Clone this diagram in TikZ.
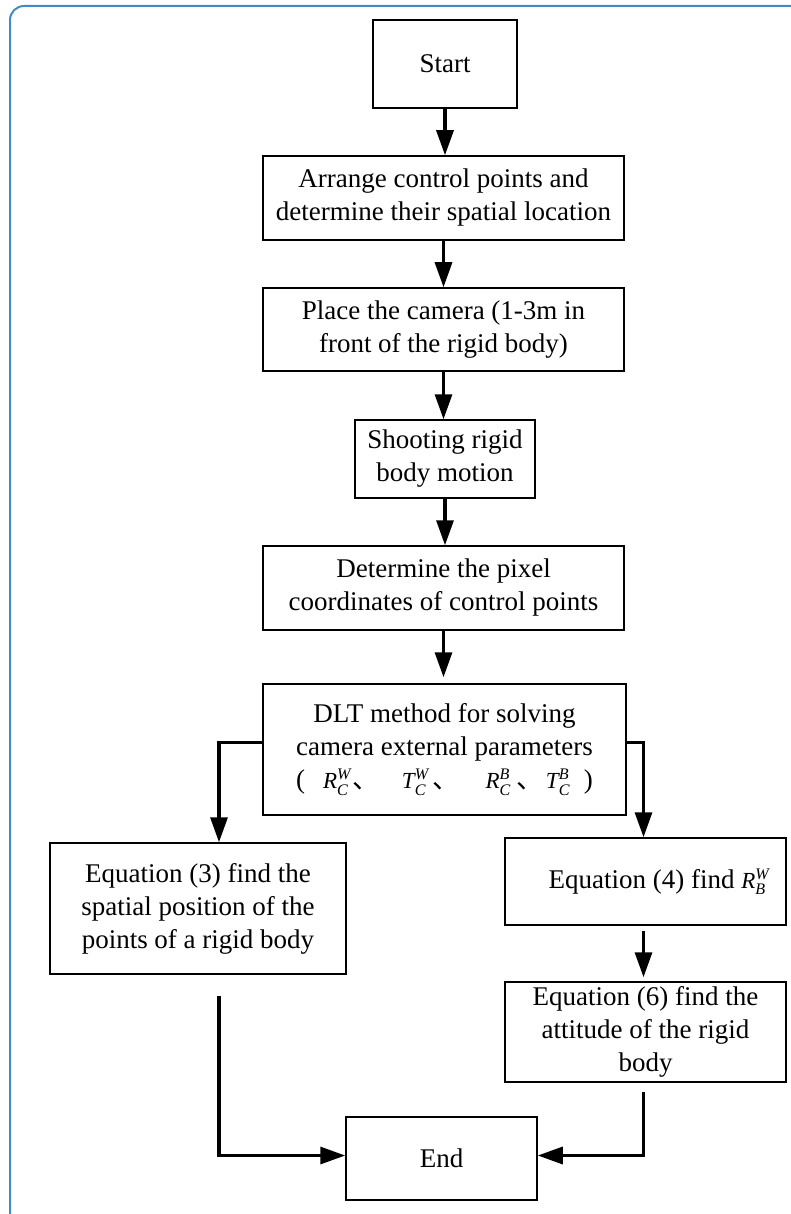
\documentclass[tikz,border=0pt]{standalone}
\usepackage{amsmath}
\usepackage{fontspec}
\setmainfont{Liberation Serif}
\newfontfamily\cjk{Noto Sans CJK SC}
\usetikzlibrary{arrows.meta}
\definecolor{frameblue}{RGB}{68,138,198}
% small matrix symbol with sub- and superscript
\newcommand{\pmat}[3]{{\fontsize{23}{24}\selectfont$\textit{#1}^{\textit{#3}}_{\textit{#2}}$}}
\newcommand{\dun}{{\cjk 、}}

\begin{document}
\begin{tikzpicture}[x=1pt, y=-1pt,
  flow box/.style={draw, line width=1.5pt, align=center, inner sep=0pt, font=\fontsize{27}{33}\selectfont},
  flow arrow/.style={line width=3.2pt, -{Triangle[length=25pt,width=17pt]}}]
\useasboundingbox (0,0) rectangle (790,1214);
\draw[frameblue, line width=2pt, rounded corners=14pt] (10,6) rectangle (830,1240);
\begin{scope}
\node[flow box, minimum width=144pt, minimum height=88pt] (start) at (445,64) {Start};
\node[flow box, minimum width=361pt, minimum height=84pt] (arrange) at (443.5,198) {Arrange control points and\\determine their spatial location};
\node[flow box, minimum width=361pt, minimum height=83pt] (camera) at (443.5,329.5) {Place the camera (1-3m in\\front of the rigid body)};
\node[flow box, minimum width=180pt, minimum height=78pt] (shoot) at (445,459) {Shooting rigid\\body motion};
\node[flow box, minimum width=361pt, minimum height=84pt] (pixel) at (443.5,588) {Determine the pixel\\coordinates of control points};
\node[flow box, minimum width=363pt, minimum height=131pt] (dlt) at (444.5,749.5) {DLT method for solving\\camera external parameters\\(\hspace{18pt}\pmat{R}{C}{W}\hspace{2pt}\dun\hspace{22pt}\pmat{T}{C}{W}\hspace{4pt}\dun\hspace{26pt}\pmat{R}{C}{B}\hspace{6pt}\dun\hspace{2pt}\pmat{T}{C}{B}\hspace{14pt})};
\node[flow box, minimum width=296pt, minimum height=131pt] (eqthree) at (198,908.5) {Equation (3) find the\\spatial position of the\\points of a rigid body};
\node[flow box, minimum width=281pt, minimum height=87pt] (eqfour) at (645.5,881.5) {\quad Equation (4) find \pmat{R}{B}{W}};
\node[flow box, minimum width=281pt, minimum height=100pt] (eqsix) at (645.5,1032) {Equation (6) find the\\attitude of the rigid\\body};
\node[flow box, minimum width=191pt, minimum height=83pt] (endbox) at (441.5,1158.5) {End};
\end{scope}
\begin{scope}
\draw[flow arrow] (start.south) -- (start.south |- arrange.north);
\draw[flow arrow] (arrange.south) -- (arrange.south |- camera.north);
\draw[flow arrow] (camera.south) -- (camera.south |- shoot.north);
\draw[flow arrow] (shoot.south) -- (shoot.south |- pixel.north);
\draw[flow arrow, shorten >=6pt] (pixel.south) -- (pixel.south |- dlt.north);
\draw[flow arrow] ([yshift=7pt]dlt.west) -| ([xshift=21pt]eqthree.north);
\draw[flow arrow] ([yshift=7pt]dlt.east) -| ([xshift=-2pt]eqfour.north);
\draw[flow arrow, shorten <=5pt, shorten >=4pt] ([xshift=-2pt]eqfour.south) -- ([xshift=-2pt]eqsix.north);
\draw[flow arrow, shorten <=21pt] ([xshift=21pt]eqthree.south) |- ([yshift=3pt]endbox.west);
\draw[flow arrow, shorten <=9pt] ([xshift=-2pt]eqsix.south) |- ([yshift=3pt]endbox.east);
\end{scope}
\end{tikzpicture}
\end{document}
